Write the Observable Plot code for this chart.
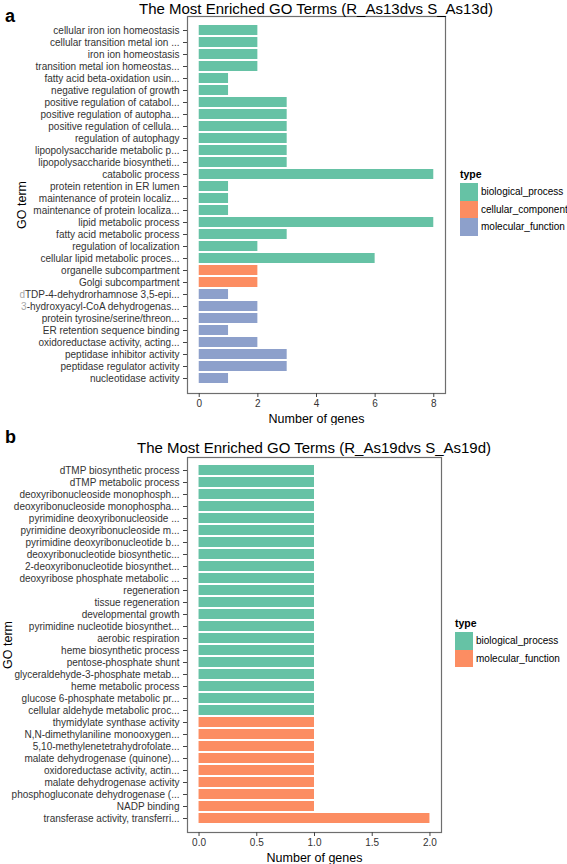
<!DOCTYPE html>
<html>
<head>
<meta charset="utf-8">
<script src="https://cdn.jsdelivr.net/npm/d3@7"></script>
<script src="https://cdn.jsdelivr.net/npm/@observablehq/plot@0.6"></script>
<style>
  body { margin: 0; background: #fff; font-family: "Liberation Sans", Arial, Helvetica, sans-serif; }
  #root { position: relative; width: 567px; height: 864px; overflow: hidden; }
  .panel { position: absolute; left: 0; width: 567px; }
  .tag { position: absolute; left: 5px; font-weight: bold; font-size: 18px; line-height: 18px; color: #000; }
  .title { position: absolute; font-size: 15px; line-height: 15px; text-align: center; white-space: nowrap; color: #000; }
  .legend { position: absolute; font-size: 10px; color: #000; }
  .legend .lt { font-weight: bold; font-size: 10.5px; line-height: 12px; margin-bottom: 3px; }
  .legend .row { display: flex; align-items: center; height: 17.5px; }
  .legend .sw { width: 18px; height: 17.5px; margin-right: 3px; }
  svg g[aria-label="x-axis label"] text, svg g[aria-label="y-axis label"] text { font-size: 12.5px; fill: #000; }
  svg g[aria-label="x-axis tick label"] text, svg g[aria-label="y-axis tick label"] text { fill: #333; }
</style>
</head>
<body>
<div id="root"></div>
<script>
// ---------- Panel a data ----------
const termsA = [
  "cellular iron ion homeostasis",
  "cellular transition metal ion ...",
  "iron ion homeostasis",
  "transition metal ion homeostas...",
  "fatty acid beta-oxidation usin...",
  "negative regulation of growth",
  "positive regulation of catabol...",
  "positive regulation of autopha...",
  "positive regulation of cellula...",
  "regulation of autophagy",
  "lipopolysaccharide metabolic p...",
  "lipopolysaccharide biosyntheti...",
  "catabolic process",
  "protein retention in ER lumen",
  "maintenance of protein localiz...",
  "maintenance of protein localiza...",
  "lipid metabolic process",
  "fatty acid metabolic process",
  "regulation of localization",
  "cellular lipid metabolic proces...",
  "organelle subcompartment",
  "Golgi subcompartment",
  "dTDP-4-dehydrorhamnose 3,5-epi...",
  "3-hydroxyacyl-CoA dehydrogenas...",
  "protein tyrosine/serine/threon...",
  "ER retention sequence binding",
  "oxidoreductase activity, acting...",
  "peptidase inhibitor activity",
  "peptidase regulator activity",
  "nucleotidase activity"
];
const countsA = [2,2,2,2,1,1,3,3,3,3,3,3,8,1,1,1,8,3,2,6,2,2,1,2,2,1,2,3,3,1];
const typesA = [
  "biological_process","biological_process","biological_process","biological_process",
  "biological_process","biological_process","biological_process","biological_process",
  "biological_process","biological_process","biological_process","biological_process",
  "biological_process","biological_process","biological_process","biological_process",
  "biological_process","biological_process","biological_process","biological_process",
  "cellular_component","cellular_component",
  "molecular_function","molecular_function","molecular_function","molecular_function",
  "molecular_function","molecular_function","molecular_function","molecular_function"
];
const legendTypesA = ["biological_process","cellular_component","molecular_function"];
const legendColorsA = ["#66c2a5","#fc8d62","#8da0cb"];
const xTicksA = [0,2,4,6,8];
const titleA = "The Most Enriched GO Terms (R_As13dvs S_As13d)";
const fadedFirstCharA = ["dTDP-4-dehydrorhamnose 3,5-epi...", "3-hydroxyacyl-CoA dehydrogenas..."];

// ---------- Panel b data ----------
const termsB = [
  "dTMP biosynthetic process",
  "dTMP metabolic process",
  "deoxyribonucleoside monophosph...",
  "deoxyribonucleoside monophospha...",
  "pyrimidine deoxyribonucleoside ...",
  "pyrimidine deoxyribonucleoside m...",
  "pyrimidine deoxyribonucleotide b...",
  "deoxyribonucleotide biosynthetic...",
  "2-deoxyribonucleotide biosynthet...",
  "deoxyribose phosphate metabolic ...",
  "regeneration",
  "tissue regeneration",
  "developmental growth",
  "pyrimidine nucleotide biosynthet...",
  "aerobic respiration",
  "heme biosynthetic process",
  "pentose-phosphate shunt",
  "glyceraldehyde-3-phosphate metab...",
  "heme metabolic process",
  "glucose 6-phosphate metabolic pr...",
  "cellular aldehyde metabolic proc...",
  "thymidylate synthase activity",
  "N,N-dimethylaniline monooxygen...",
  "5,10-methylenetetrahydrofolate...",
  "malate dehydrogenase (quinone)...",
  "oxidoreductase activity, actin...",
  "malate dehydrogenase activity",
  "phosphogluconate dehydrogenase (...",
  "NADP binding",
  "transferase activity, transferri..."
];
const countsB = [1,1,1,1,1,1,1,1,1,1,1,1,1,1,1,1,1,1,1,1,1,1,1,1,1,1,1,1,1,2];
const typesB = [
  "biological_process","biological_process","biological_process","biological_process",
  "biological_process","biological_process","biological_process","biological_process",
  "biological_process","biological_process","biological_process","biological_process",
  "biological_process","biological_process","biological_process","biological_process",
  "biological_process","biological_process","biological_process","biological_process",
  "biological_process",
  "molecular_function","molecular_function","molecular_function","molecular_function",
  "molecular_function","molecular_function","molecular_function","molecular_function",
  "molecular_function"
];
const legendTypesB = ["biological_process","molecular_function"];
const legendColorsB = ["#66c2a5","#fc8d62"];
const xTicksB = [0,0.5,1,1.5,2];
const titleB = "The Most Enriched GO Terms (R_As19dvs S_As19d)";

// ---------- Drawing ----------
const root = document.getElementById("root");
const FONT = "'Liberation Sans', Arial, Helvetica, sans-serif";

function makePanel(cfg) {
  const data = cfg.terms.map((t, i) => ({term: t, count: cfg.counts[i], type: cfg.types[i]}));
  const chart = Plot.plot({
    width: 567,
    height: cfg.height,
    marginLeft: cfg.ml, marginRight: cfg.mr, marginTop: cfg.mt, marginBottom: cfg.mb,
    style: {fontFamily: FONT, fontSize: "10px", background: "white", color: "#333"},
    x: {domain: cfg.xDomain},
    y: {domain: cfg.terms, paddingInner: 0.15, paddingOuter: 0.135},
    color: {domain: cfg.legendTypes, range: cfg.legendColors},
    marks: [
      Plot.barX(data, {x: "count", y: "term", fill: "type"}),
      Plot.frame({stroke: "#6e6e6e", strokeWidth: 1.2}),
      Plot.axisX({ticks: cfg.xTicks, tickFormat: cfg.tickFormat, tickSize: 4, tickPadding: 2, stroke: "#444",
                  label: "Number of genes", labelAnchor: "center", labelArrow: "none"}),
      Plot.axisY({tickSize: 4, tickPadding: 4, stroke: "#444",
                  label: "GO term", labelAnchor: "center", labelArrow: "none", labelOffset: cfg.yLabelOffset})
    ]
  });
  // strip any arrow glyphs that an older Plot might add to axis labels
  chart.querySelectorAll('g[aria-label="x-axis label"] text, g[aria-label="y-axis label"] text').forEach(t => {
    t.textContent = t.textContent.replace(/\s*[→←↑↓]\s*/g, "");
  });
  const wrap = document.createElement("div");
  wrap.className = "panel";
  wrap.style.top = cfg.top + "px";
  wrap.appendChild(chart);
  root.appendChild(wrap);

  // faded first characters of some tick labels
  if (cfg.faded) {
    const ns = "http://www.w3.org/2000/svg";
    chart.querySelectorAll('g[aria-label="y-axis tick label"] text').forEach(t => {
      const s = t.textContent;
      if (cfg.faded.includes(s)) {
        t.textContent = "";
        const a = document.createElementNS(ns, "tspan");
        a.setAttribute("style", "fill:#a8a8a8");
        a.textContent = s[0];
        const b = document.createElementNS(ns, "tspan");
        b.textContent = s.slice(1);
        t.append(a, b);
      }
    });
  }

  // tag
  const tag = document.createElement("div");
  tag.className = "tag";
  tag.textContent = cfg.tag;
  tag.style.top = cfg.tagTop + "px";
  root.appendChild(tag);

  // title, centred over the panel
  const center = (cfg.ml + 567 - cfg.mr) / 2;
  const title = document.createElement("div");
  title.className = "title";
  title.textContent = cfg.title;
  title.style.left = (center - 250) + "px";
  title.style.width = "500px";
  title.style.top = cfg.titleTop + "px";
  root.appendChild(title);

  // legend
  const lg = document.createElement("div");
  lg.className = "legend";
  lg.style.left = (567 - cfg.mr + cfg.legendGap) + "px";
  lg.style.top = cfg.legendTop + "px";
  const lt = document.createElement("div");
  lt.className = "lt";
  lt.textContent = "type";
  lg.appendChild(lt);
  cfg.legendTypes.forEach((name, i) => {
    const row = document.createElement("div");
    row.className = "row";
    const sw = document.createElement("div");
    sw.className = "sw";
    sw.style.background = cfg.legendColors[i];
    const tx = document.createElement("span");
    tx.textContent = name;
    row.append(sw, tx);
    lg.appendChild(row);
  });
  root.appendChild(lg);
}

makePanel({
  terms: termsA, counts: countsA, types: typesA,
  legendTypes: legendTypesA, legendColors: legendColorsA,
  xTicks: xTicksA, tickFormat: d3.format("d"), xDomain: [-0.4, 8.4],
  height: 425, top: 0, ml: 187, mr: 122, mt: 16, mb: 32, yLabelOffset: 170,
  tag: "a", tagTop: 7, title: titleA, titleTop: 1,
  legendGap: 15, legendTop: 168, faded: fadedFirstCharA
});

makePanel({
  terms: termsB, counts: countsB, types: typesB,
  legendTypes: legendTypesB, legendColors: legendColorsB,
  xTicks: xTicksB, tickFormat: d3.format(".1f"), xDomain: [-0.1, 2.1],
  height: 439, top: 425, ml: 187, mr: 126, mt: 32, mb: 32, yLabelOffset: 184,
  tag: "b", tagTop: 428, title: titleB, titleTop: 440,
  legendGap: 14, legendTop: 617
});
</script>
</body>
</html>
